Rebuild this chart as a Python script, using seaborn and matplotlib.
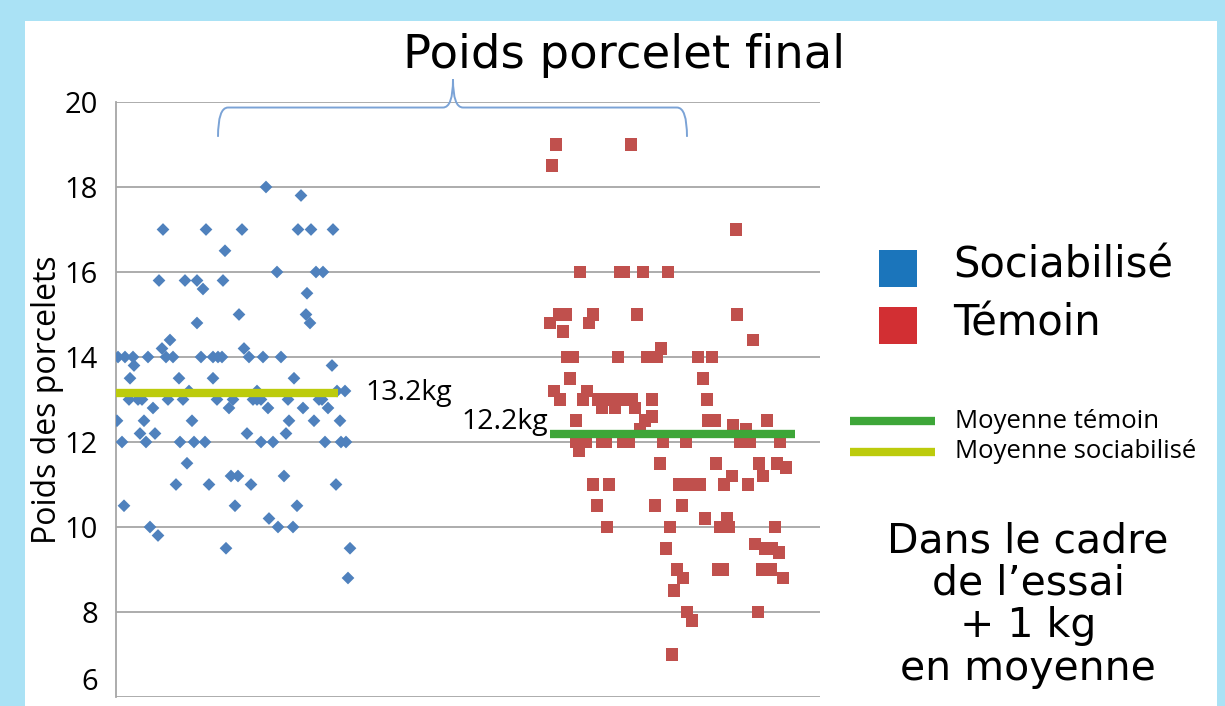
import numpy as np
import pandas as pd
import seaborn as sns
import matplotlib.pyplot as plt
from matplotlib.patches import Rectangle, PathPatch
from matplotlib.path import Path
from matplotlib.lines import Line2D

# Data (x = jitter position, arbitrary units 0-704)
soc_pos = [150, 185,
           47, 90, 126, 182, 195, 217,
           109,
           161, 200, 207,
           43, 69, 81, 107,
           87, 191,
           123, 190,
           81, 194,
           54,
           46, 128,
           2, 9, 17, 32, 50, 57, 85, 97, 102, 106, 133, 147, 165,
           18, 216,
           14, 63, 97, 178,
           73, 141, 221, 229,
           13, 22, 26, 52, 67, 101, 117, 137, 141, 145, 172, 203, 206,
           37, 113, 152, 187, 212,
           1, 28, 76, 173, 198, 224,
           24, 39, 131, 170,
           6, 30, 64, 78, 89, 145, 157, 209, 225, 230,
           71,
           115, 122, 168,
           60, 93, 135, 220,
           8, 119, 181,
           153,
           34, 162, 177,
           42,
           110, 234,
           232]
soc_poids = [18.0, 17.8,
             17.0, 17.0, 17.0, 17.0, 17.0, 17.0,
             16.5,
             16.0, 16.0, 16.0,
             15.8, 15.8, 15.8, 15.8,
             15.6, 15.5,
             15.0, 15.0,
             14.8, 14.8,
             14.4,
             14.2, 14.2,
             14.0, 14.0, 14.0, 14.0, 14.0, 14.0, 14.0, 14.0, 14.0, 14.0, 14.0, 14.0, 14.0,
             13.8, 13.8,
             13.5, 13.5, 13.5, 13.5,
             13.2, 13.2, 13.2, 13.2,
             13.0, 13.0, 13.0, 13.0, 13.0, 13.0, 13.0, 13.0, 13.0, 13.0, 13.0, 13.0, 13.0,
             12.8, 12.8, 12.8, 12.8, 12.8,
             12.5, 12.5, 12.5, 12.5, 12.5, 12.5,
             12.2, 12.2, 12.2, 12.2,
             12.0, 12.0, 12.0, 12.0, 12.0, 12.0, 12.0, 12.0, 12.0, 12.0,
             11.5,
             11.2, 11.2, 11.2,
             11.0, 11.0, 11.0, 11.0,
             10.5, 10.5, 10.5,
             10.2,
             10.0, 10.0, 10.0,
             9.8,
             9.5, 9.5,
             8.8]

tem_pos = [440, 515,
           436,
           620,
           464, 504, 508, 527, 552,
           443, 450, 477, 521, 621,
           434, 473,
           447,
           637,
           545,
           451, 457, 502, 531, 541, 582, 596,
           454, 587,
           438, 471,
           444, 467, 482, 491, 497, 506, 516, 536, 591,
           486, 499, 519,
           536,
           460, 529, 592, 599, 651,
           617,
           524, 630,
           460, 470, 486, 490, 507, 513, 547, 570, 624, 634, 664,
           463,
           544, 600, 643, 661,
           670,
           616, 647,
           477, 493, 563, 571, 578, 584, 608, 632,
           481, 539, 566,
           589, 611,
           491, 554, 604, 613, 659,
           639,
           550, 649, 656,
           663,
           561, 602, 607, 646, 655,
           567, 667,
           558,
           571, 642,
           576,
           556]
tem_poids = [19.0, 19.0,
             18.5,
             17.0,
             16.0, 16.0, 16.0, 16.0, 16.0,
             15.0, 15.0, 15.0, 15.0, 15.0,
             14.8, 14.8,
             14.6,
             14.4,
             14.2,
             14.0, 14.0, 14.0, 14.0, 14.0, 14.0, 14.0,
             13.5, 13.5,
             13.2, 13.2,
             13.0, 13.0, 13.0, 13.0, 13.0, 13.0, 13.0, 13.0, 13.0,
             12.8, 12.8, 12.8,
             12.6,
             12.5, 12.5, 12.5, 12.5, 12.5,
             12.4,
             12.3, 12.3,
             12.0, 12.0, 12.0, 12.0, 12.0, 12.0, 12.0, 12.0, 12.0, 12.0, 12.0,
             11.8,
             11.5, 11.5, 11.5, 11.5,
             11.4,
             11.2, 11.2,
             11.0, 11.0, 11.0, 11.0, 11.0, 11.0, 11.0, 11.0,
             10.5, 10.5, 10.5,
             10.2, 10.2,
             10.0, 10.0, 10.0, 10.0, 10.0,
             9.6,
             9.5, 9.5, 9.5,
             9.4,
             9.0, 9.0, 9.0, 9.0, 9.0,
             8.8, 8.8,
             8.5,
             8.0, 8.0,
             7.8,
             7.0]

# mean lines: value, label, span of the line
moyennes = [13.15, 12.2]
moyenne_labels = ['13.2kg', '12.2kg']
moyenne_spans = [(0, 222), (434, 679)]

groupes = ['Sociabilisé', 'Témoin']
legende_moyennes = ['Moyenne témoin', 'Moyenne sociabilisé']

BLUE = '#4F81BD'
RED = '#C0504D'
GREEN = '#3DA638'
YELLOW = '#BCCB0C'

sns.set_style("white")
plt.rcParams['font.family'] = ['Open Sans', 'DejaVu Sans']
plt.rcParams['text.color'] = 'black'
plt.rcParams['ytick.color'] = 'black'
plt.rcParams['axes.labelcolor'] = 'black'

fig = plt.figure(figsize=(12.25, 7.06), dpi=100)
fig.patch.set_facecolor('#AAE2F5')
fig.patches.append(Rectangle((25 / 1225, 0), 1192 / 1225, 1 - 21 / 706,
                             transform=fig.transFigure, facecolor='white',
                             edgecolor='none', zorder=-10))

ax = fig.add_axes([116 / 1225, 1 - 697 / 706, 704 / 1225, 595 / 706])
ax.set_facecolor('none')

soc = pd.DataFrame({'pos': soc_pos, 'poids': soc_poids})
tem = pd.DataFrame({'pos': tem_pos, 'poids': tem_poids})

sns.scatterplot(data=soc, x='pos', y='poids', marker='D', s=42, color=BLUE,
                edgecolor='none', ax=ax, zorder=3)
sns.scatterplot(data=tem, x='pos', y='poids', marker='s', s=82, color=RED,
                edgecolor='none', ax=ax, zorder=3)

# mean lines
ax.hlines(moyennes[0], *moyenne_spans[0], color=YELLOW, lw=6, zorder=4)
ax.hlines(moyennes[1], *moyenne_spans[1], color=GREEN, lw=6, zorder=4)
ax.text(moyenne_spans[0][1] + 27, moyennes[0], moyenne_labels[0], fontsize=20.5,
        va='center', ha='left')
ax.text(moyenne_spans[1][0] - 2, moyennes[1] + 0.26, moyenne_labels[1], fontsize=20.5,
        va='center', ha='right',
        bbox=dict(facecolor='white', edgecolor='none', pad=0.5))

ax.set_xlim(0, 704)
ax.set_ylim(6, 20)
ax.set_yticks(np.arange(6, 21, 2))
ax.set_xticks([])
ax.tick_params(axis='y', length=0, pad=13, labelsize=21)
ax.get_yticklabels()[0].set_verticalalignment('bottom')
ax.grid(axis='y', color='#A6A6A6', lw=1.3)
ax.set_axisbelow(True)
for side in ['top', 'right', 'bottom']:
    ax.spines[side].set_visible(False)
ax.spines['left'].set_color('#A6A6A6')
ax.spines['left'].set_linewidth(1.3)
ax.set_xlabel('')
ax.set_ylabel('Poids des porcelets', fontsize=23)
ax.yaxis.set_label_coords(-0.074, 0.5)

# curly brace above the two groups
bx0, bx1, bxm = 102, 571, 337
by, btip, bend = 19.87, 20.53, 19.18
verts = [(bx0, bend), (bx0, by), (bx0 + 10, by),
         (bxm - 10, by), (bxm, by), (bxm, btip),
         (bxm, by), (bxm + 10, by),
         (bx1 - 10, by), (bx1, by), (bx1, bend)]
codes = [Path.MOVETO, Path.CURVE3, Path.CURVE3,
         Path.LINETO, Path.CURVE3, Path.CURVE3,
         Path.CURVE3, Path.CURVE3,
         Path.LINETO, Path.CURVE3, Path.CURVE3]
ax.add_patch(PathPatch(Path(verts, codes), facecolor='none', edgecolor='#7BA3D6',
                       lw=1.4, clip_on=False, zorder=5))

geo = ['DejaVu Sans']

# title
fig.text(624 / 1225, 1 - 55 / 706, 'Poids porcelet final', fontsize=33.5,
         ha='center', va='center', family=geo)

# group legend
for i, (label, col) in enumerate(zip(groupes, ['#1B75BB', '#D22F33'])):
    top = 250 + i * 57
    fig.patches.append(Rectangle((879 / 1225, 1 - (top + 37) / 706), 38 / 1225, 37 / 706,
                                 transform=fig.transFigure, facecolor=col,
                                 edgecolor='none', zorder=2))
    fig.text(953 / 1225, 1 - (top + 28) / 706, label, fontsize=30, ha='left',
             va='baseline', family=geo)

# mean legend
for i, (label, col) in enumerate(zip(legende_moyennes, [GREEN, YELLOW])):
    yy = 1 - (421 + i * 31) / 706
    fig.add_artist(Line2D([850 / 1225, 935 / 1225], [yy, yy], color=col, lw=6,
                          solid_capstyle='butt', transform=fig.transFigure))
    fig.text(955 / 1225, yy, label, fontsize=18.5, ha='left', va='center')

fig.text(1028 / 1225, 1 - 605 / 706,
         "Dans le cadre\nde l\u2019essai\n+ 1 kg\nen moyenne",
         fontsize=29.5, ha='center', va='center', linespacing=1.08,
         family=geo)

plt.savefig('out.png', dpi=100)
